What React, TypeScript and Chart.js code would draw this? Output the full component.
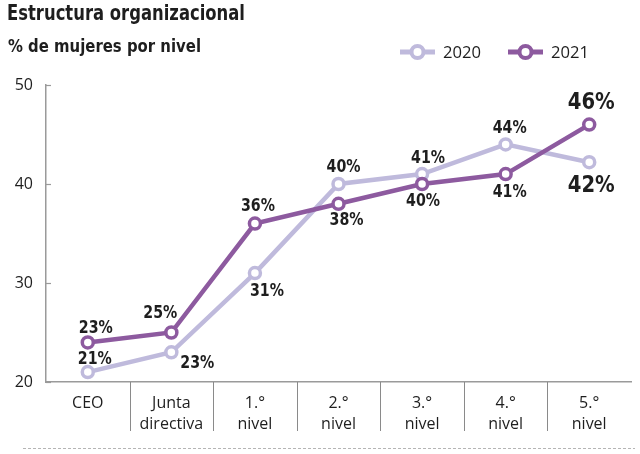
import React, { useEffect, useRef } from "react";
import { Chart, registerables } from "chart.js";

Chart.register(...registerables);

const categories: (string | string[])[] = [
  "CEO",
  ["Junta", "directiva"],
  ["1.°", "nivel"],
  ["2.°", "nivel"],
  ["3.°", "nivel"],
  ["4.°", "nivel"],
  ["5.°", "nivel"],
];
const values2020 = [21, 23, 31, 40, 41, 44, 42.2];
const values2021 = [24, 25, 36, 38, 40, 41, 46];
const labels2020 = ["21%", "23%", "31%", "40%", "41%", "44%", "42%"];
const labels2021 = ["23%", "25%", "36%", "38%", "40%", "41%", "46%"];
const yTicks = [20, 30, 40, 50];

// label offsets (style, relative to the point)
const off2020 = [[7, -13], [26, 11], [12, 18], [5, -16], [6, -16], [4, -16], [2, 24]];
const off2021 = [[8, -14], [-11, -19], [3, -17], [8, 17], [1, 18], [4, 18], [2, -22]];
const bigLast = true;

const C2020 = "#bfbadc";
const C2021 = "#8d5a9f";
const TEXT = "#1e1e1e";

const deco = {
  id: "deco",
  afterDraw(chart: any) {
    const ctx = chart.ctx;
    const x = chart.scales.x;
    const y = chart.scales.y;
    const area = chart.chartArea;
    ctx.save();
    // separators below axis
    ctx.strokeStyle = "#8a8a8a";
    ctx.lineWidth = 1;
    for (let i = 0; i < categories.length - 1; i++) {
      const px = Math.round((x.getPixelForValue(i) + x.getPixelForValue(i + 1)) / 2) + 0.5;
      ctx.beginPath();
      ctx.moveTo(px, area.bottom);
      ctx.lineTo(px, area.bottom + 49);
      ctx.stroke();
    }
    // small inward y ticks
    ctx.strokeStyle = "#9a9a9a";
    ctx.lineWidth = 1.2;
    yTicks.forEach((v) => {
      const py = Math.round(y.getPixelForValue(v)) + 0.5;
      ctx.beginPath();
      ctx.moveTo(area.left, py);
      ctx.lineTo(area.left + 5, py);
      ctx.stroke();
    });
    // bottom dashed rule
    ctx.strokeStyle = "#b5b5b5";
    ctx.lineWidth = 1;
    ctx.setLineDash([3, 2]);
    ctx.beginPath();
    ctx.moveTo(23, 448.5);
    ctx.lineTo(635, 448.5);
    ctx.stroke();
    ctx.setLineDash([]);
    // title & subtitle
    ctx.fillStyle = TEXT;
    ctx.textAlign = "left";
    ctx.textBaseline = "alphabetic";
    ctx.font = "bold 21px 'DejaVu Sans'";
    ctx.fillText("Estructura organizacional", 7, 20, 238);
    ctx.font = "bold 17px 'DejaVu Sans'";
    ctx.fillText("% de mujeres por nivel", 8, 52, 193);
    // legend
    const items = [
      { c: C2020, t: "2020", x0: 400 },
      { c: C2021, t: "2021", x0: 508 },
    ];
    items.forEach((it) => {
      const ly = 52;
      ctx.strokeStyle = it.c;
      ctx.lineWidth = 5;
      ctx.beginPath();
      ctx.moveTo(it.x0, ly);
      ctx.lineTo(it.x0 + 35, ly);
      ctx.stroke();
      ctx.beginPath();
      ctx.arc(it.x0 + 17.5, ly, 6, 0, Math.PI * 2);
      ctx.fillStyle = "#fff";
      ctx.fill();
      ctx.lineWidth = 4;
      ctx.stroke();
      ctx.fillStyle = TEXT;
      ctx.font = "17px 'Open Sans'";
      ctx.textBaseline = "middle";
      ctx.fillText(it.t, it.x0 + 43, ly + 1, 38);
    });
    // data labels
    ctx.textAlign = "center";
    ctx.textBaseline = "middle";
    const drawSet = (dsIndex: number, labs: string[], offs: number[][]) => {
      const meta = chart.getDatasetMeta(dsIndex);
      meta.data.forEach((pt: any, i: number) => {
        const big = bigLast && i === labs.length - 1;
        ctx.font = big ? "bold 23px 'DejaVu Sans'" : "bold 17px 'DejaVu Sans'";
        ctx.fillStyle = TEXT;
        ctx.fillText(labs[i], pt.x + offs[i][0], pt.y + offs[i][1], big ? 47 : 34);
      });
    };
    drawSet(0, labels2020, off2020);
    drawSet(1, labels2021, off2021);
    ctx.restore();
  },
};

export default function App() {
  const ref = useRef<HTMLCanvasElement>(null);
  useEffect(() => {
    if (!ref.current) return;
    const chart = new Chart(ref.current, {
      type: "line",
      data: {
        labels: categories,
        datasets: [
          {
            label: "2020",
            data: values2020,
            borderColor: C2020,
            backgroundColor: "#fff",
            borderWidth: 4.5,
            pointRadius: 5.5,
            pointBorderWidth: 3.5,
            pointBackgroundColor: "#fff",
            pointBorderColor: C2020,
            order: 1,
          },
          {
            label: "2021",
            data: values2021,
            borderColor: C2021,
            backgroundColor: "#fff",
            borderWidth: 4.5,
            pointRadius: 5.5,
            pointBorderWidth: 3.5,
            pointBackgroundColor: "#fff",
            pointBorderColor: C2021,
            order: 0,
          },
        ],
      },
      options: {
        animation: false,
        responsive: true,
        maintainAspectRatio: false,
        layout: { padding: { top: 85, right: 5, left: 0, bottom: 0 } },
        plugins: {
          legend: { display: false },
          tooltip: { enabled: false },
          title: { display: false },
        },
        scales: {
          x: {
            offset: true,
            grid: { display: false, drawOnChartArea: false },
            border: { display: true, color: "#9a9a9a", width: 1.5 },
            ticks: {
              color: TEXT,
              font: { family: "'Open Sans'", size: 16, lineHeight: 1.3 },
              padding: 3,
              maxRotation: 0,
              autoSkip: false,
            },
            afterFit: (s: any) => {
              s.height = 72;
            },
          },
          y: {
            min: 20,
            max: 50,
            afterBuildTicks: (s: any) => {
              s.ticks = yTicks.map((v) => ({ value: v }));
            },
            grid: { display: false },
            border: { display: true, color: "#9a9a9a", width: 1.5 },
            ticks: {
              color: TEXT,
              font: { family: "'Open Sans'", size: 16 },
              padding: 5,
            },
            afterFit: (s: any) => {
              s.width = 46;
            },
          },
        },
      },
      plugins: [deco],
    });
    return () => chart.destroy();
  }, []);
  return (
    <div style={{ position: "absolute", left: 0, top: 0, width: 640, height: 454, background: "#fff" }}>
      <canvas ref={ref} />
    </div>
  );
}
